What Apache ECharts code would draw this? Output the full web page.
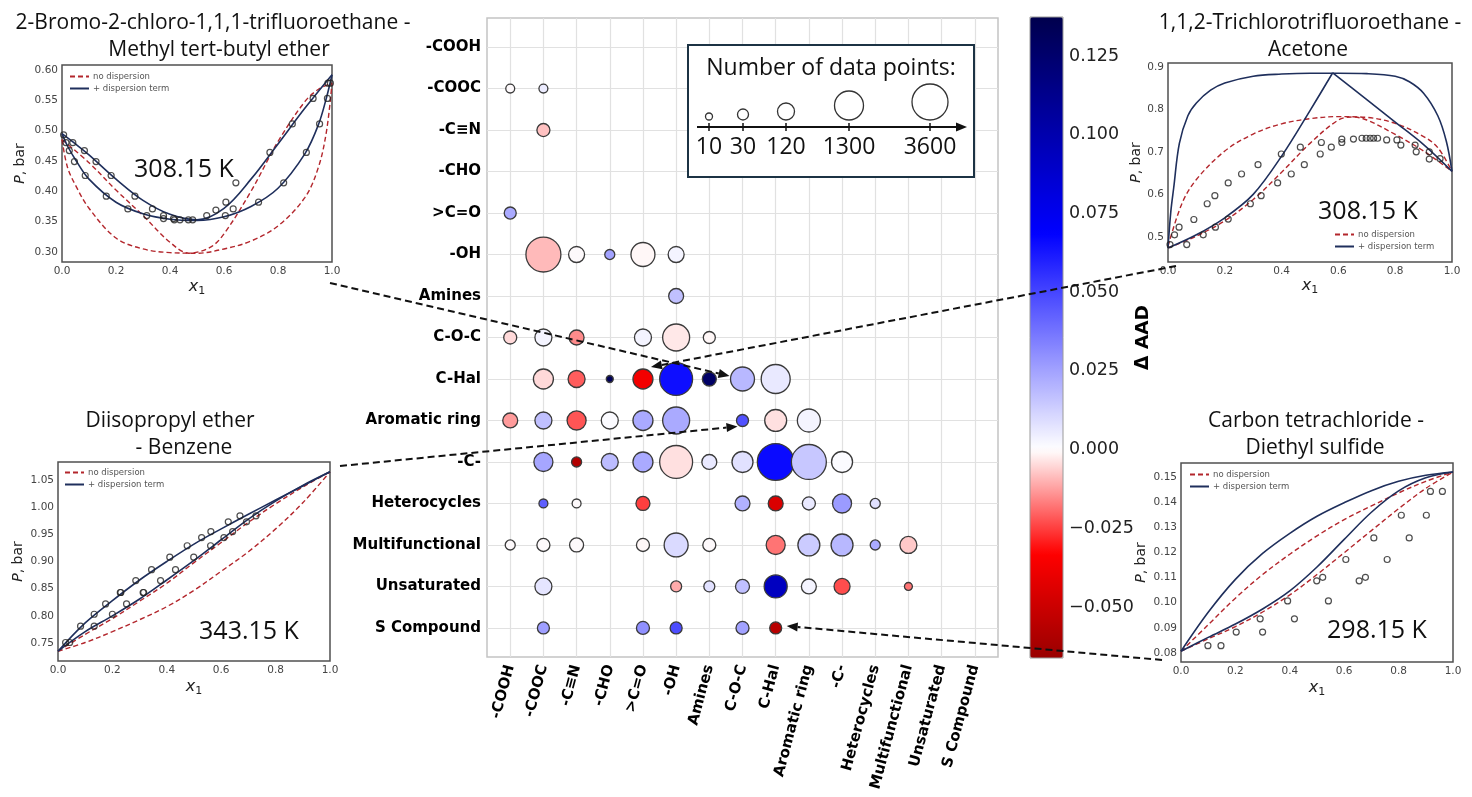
<!DOCTYPE html>
<html><head><meta charset="utf-8">
<script src="https://cdn.jsdelivr.net/npm/echarts@6/dist/echarts.min.js"></script>
<style>html,body{margin:0;padding:0;background:#fff}#c{width:1472px;height:797px}</style>
</head><body><div id="c"></div>
<script>
// ---------------- DATA ----------------
const groups = ['-COOH','-COOC','-C≡N','-CHO','>C=O','-OH','Amines','C-O-C','C-Hal','Aromatic ring','-C-','Heterocycles','Multifunctional','Unsaturated','S Compound'];
// [row group index, column group index, ΔAAD, number of data points]
const bubbles = [
 [1,0,0.000,17],[1,1,0.005,17],
 [2,1,-0.008,48],
 [4,0,0.023,38],
 [5,1,-0.009,3100],[5,2,0.000,95],[5,3,0.025,23],[5,4,-0.001,480],[5,5,0.003,95],
 [6,5,0.017,75],
 [7,0,-0.005,48],[7,1,0.003,120],[7,2,-0.015,75],[7,4,0.003,120],[7,5,-0.003,870],[7,6,-0.001,38],
 [8,1,-0.005,218],[8,2,-0.021,120],[8,3,0.133,10],[8,4,-0.037,218],[8,5,0.065,2300],[8,6,0.128,60],[8,7,0.019,480],[8,8,0.006,1300],
 [9,0,-0.013,75],[9,1,0.017,120],[9,2,-0.022,180],[9,3,0.001,120],[9,4,0.023,218],[9,5,0.023,870],[9,7,0.047,38],[9,8,-0.004,320],[9,9,0.003,395],
 [10,1,0.024,180],[10,2,-0.058,23],[10,3,0.018,120],[10,4,0.023,218],[10,5,-0.004,2300],[10,6,0.006,75],[10,7,0.008,266],[10,8,0.066,4000],[10,9,0.015,3100],[10,10,0.001,266],
 [11,1,0.043,17],[11,2,0.000,17],[11,4,-0.025,60],[11,7,0.021,75],[11,8,-0.045,75],[11,9,0.006,48],[11,10,0.027,180],[11,11,0.008,23],
 [12,0,0.000,23],[12,1,0.000,48],[12,2,0.000,60],[12,4,-0.001,48],[12,5,0.010,480],[12,6,0.000,48],[12,8,-0.018,180],[12,9,0.014,320],[12,10,0.019,320],[12,11,0.023,23],[12,12,-0.007,120],
 [13,1,0.007,120],[13,5,-0.011,30],[13,6,0.008,30],[13,7,0.017,60],[13,8,0.093,395],[13,9,0.003,75],[13,10,-0.023,95],[13,12,-0.018,13],
 [14,1,0.026,38],[14,4,0.030,48],[14,5,0.048,38],[14,7,0.025,48],[14,8,-0.056,38]
];
const sizeLegendCounts = [10,30,120,1300,3600];
const colorbarRange = [-0.0662, 0.1374];
const colorbarTicks = [-0.050,-0.025,0.000,0.025,0.050,0.075,0.100,0.125];

// Inset 1: 2-Bromo-2-chloro-1,1,1-trifluoroethane - Methyl tert-butyl ether
const bromoPts = [[0.006,0.493],[0.015,0.480],[0.027,0.467],[0.04,0.480],[0.046,0.449],[0.083,0.467],[0.086,0.426],[0.126,0.449],[0.164,0.392],[0.182,0.426],[0.244,0.371],[0.27,0.392],[0.314,0.36],[0.335,0.371],[0.376,0.36],[0.376,0.355],[0.413,0.355],[0.416,0.353],[0.437,0.353],[0.468,0.353],[0.484,0.353],[0.536,0.36],[0.57,0.369],[0.607,0.382],[0.605,0.36],[0.644,0.414],[0.634,0.371],[0.728,0.382],[0.77,0.464],[0.821,0.414],[0.853,0.511],[0.905,0.464],[0.93,0.553],[0.954,0.511],[0.983,0.553],[0.985,0.578],[0.994,0.578]];
const bromoBlueA = [[0,0.495],[0.05,0.478],[0.1,0.46],[0.2,0.42],[0.3,0.385],[0.4,0.362],[0.5,0.353],[0.6,0.372],[0.7,0.42],[0.8,0.478],[0.9,0.537],[1,0.592]];
const bromoBlueB = [[0,0.495],[0.02,0.475],[0.05,0.452],[0.1,0.42],[0.2,0.382],[0.3,0.363],[0.4,0.354],[0.5,0.352],[0.6,0.358],[0.7,0.375],[0.8,0.405],[0.9,0.462],[0.95,0.51],[0.98,0.555],[1,0.592]];
const bromoRedA = [[0,0.485],[0.1,0.447],[0.2,0.402],[0.3,0.36],[0.4,0.316],[0.47,0.298],[0.55,0.308],[0.6,0.33],[0.7,0.4],[0.8,0.482],[0.9,0.548],[0.95,0.568],[1,0.578]];
const bromoRedB = [[0,0.485],[0.02,0.44],[0.05,0.41],[0.1,0.372],[0.2,0.323],[0.3,0.305],[0.4,0.299],[0.5,0.298],[0.6,0.305],[0.7,0.318],[0.8,0.343],[0.9,0.39],[0.95,0.44],[0.98,0.5],[1,0.578]];
const bromoYTicks = [0.30,0.35,0.40,0.45,0.50,0.55,0.60];

// Inset 2: 1,1,2-Trichlorotrifluoroethane - Acetone
const trichPts = [[0.007,0.482],[0.023,0.505],[0.039,0.523],[0.066,0.482],[0.091,0.541],[0.124,0.505],[0.138,0.578],[0.165,0.597],[0.167,0.523],[0.212,0.627],[0.212,0.542],[0.259,0.648],[0.29,0.578],[0.317,0.67],[0.328,0.597],[0.386,0.627],[0.399,0.695],[0.434,0.648],[0.466,0.711],[0.48,0.67],[0.536,0.695],[0.54,0.722],[0.575,0.711],[0.612,0.73],[0.612,0.722],[0.653,0.73],[0.683,0.732],[0.698,0.732],[0.712,0.732],[0.724,0.732],[0.738,0.732],[0.77,0.728],[0.806,0.728],[0.82,0.716],[0.87,0.716],[0.874,0.70],[0.92,0.70],[0.92,0.683],[0.958,0.684]];
const trichBlueA = [[0,0.474],[0.01,0.56],[0.02,0.615],[0.04,0.72],[0.07,0.785],[0.1,0.815],[0.15,0.845],[0.2,0.862],[0.3,0.878],[0.4,0.883],[0.5,0.885],[0.6,0.885],[0.7,0.884],[0.8,0.878],[0.85,0.865],[0.9,0.838],[0.95,0.785],[0.98,0.725],[1,0.654]];
const trichBlueRise = [[0,0.474],[0.1,0.505],[0.2,0.545],[0.3,0.6],[0.4,0.69],[0.5,0.797],[0.58,0.886]];
const trichBlueFall = [[0.58,0.886],[0.7,0.823],[0.8,0.77],[0.9,0.717],[1,0.654]];
const trichRedA = [[0,0.478],[0.05,0.58],[0.1,0.635],[0.2,0.702],[0.3,0.742],[0.4,0.766],[0.5,0.778],[0.6,0.783],[0.7,0.781],[0.8,0.767],[0.9,0.736],[0.95,0.71],[1,0.654]];
const trichRedB = [[0,0.474],[0.1,0.502],[0.2,0.538],[0.3,0.588],[0.4,0.652],[0.5,0.72],[0.6,0.775],[0.65,0.782],[0.7,0.775],[0.8,0.741],[0.9,0.702],[1,0.654]];
const trichYTicks = [0.5,0.6,0.7,0.8,0.9];

// Inset 3: Diisopropyl ether - Benzene
const diisoPts = [[0.028,0.751],[0.043,0.751],[0.083,0.781],[0.133,0.781],[0.133,0.803],[0.175,0.822],[0.2,0.803],[0.229,0.843],[0.231,0.843],[0.252,0.822],[0.286,0.865],[0.313,0.843],[0.315,0.843],[0.344,0.885],[0.377,0.865],[0.411,0.908],[0.432,0.885],[0.475,0.929],[0.499,0.908],[0.528,0.944],[0.561,0.929],[0.562,0.955],[0.61,0.944],[0.626,0.973],[0.642,0.955],[0.669,0.984],[0.693,0.973],[0.728,0.984]];
const diisoBlueA = [[0,0.735],[0.1,0.787],[0.2,0.828],[0.3,0.866],[0.4,0.9],[0.5,0.932],[0.6,0.96],[0.7,0.987],[0.8,1.013],[0.9,1.039],[1,1.065]];
const diisoBlueB = [[0,0.735],[0.1,0.771],[0.2,0.8],[0.3,0.831],[0.4,0.866],[0.5,0.902],[0.6,0.94],[0.7,0.978],[0.8,1.011],[0.9,1.04],[1,1.065]];
const diisoRedA = [[0,0.735],[0.1,0.766],[0.2,0.795],[0.3,0.827],[0.4,0.86],[0.5,0.898],[0.6,0.935],[0.7,0.972],[0.8,1.006],[0.9,1.037],[1,1.065]];
const diisoRedB = [[0,0.735],[0.1,0.751],[0.2,0.771],[0.3,0.793],[0.4,0.817],[0.5,0.847],[0.6,0.882],[0.7,0.918],[0.8,0.96],[0.9,1.008],[1,1.065]];
const diisoYTicks = [0.75,0.80,0.85,0.90,0.95,1.00,1.05];

// Inset 4: Carbon tetrachloride - Diethyl sulfide
const ctetPts = [[0.099,0.0829],[0.147,0.0829],[0.203,0.0883],[0.291,0.0936],[0.3,0.0883],[0.392,0.1007],[0.417,0.0936],[0.499,0.1087],[0.521,0.1101],[0.542,0.1007],[0.606,0.1172],[0.655,0.1087],[0.678,0.1101],[0.709,0.1258],[0.758,0.1172],[0.81,0.1348],[0.839,0.1258],[0.902,0.1348],[0.917,0.1443],[0.961,0.1443]];
const ctetBlueA = [[0,0.0807],[0.1,0.0962],[0.2,0.1093],[0.3,0.1196],[0.4,0.1276],[0.5,0.1344],[0.6,0.1398],[0.7,0.1446],[0.8,0.1483],[0.9,0.1507],[1,0.152]];
const ctetBlueB = [[0,0.0807],[0.1,0.0862],[0.2,0.0915],[0.3,0.0975],[0.4,0.1047],[0.5,0.1142],[0.6,0.1252],[0.7,0.136],[0.8,0.1445],[0.9,0.1497],[1,0.152]];
const ctetRedA = [[0,0.0807],[0.1,0.0912],[0.2,0.1018],[0.3,0.1112],[0.4,0.1193],[0.5,0.1266],[0.6,0.1331],[0.7,0.1385],[0.8,0.1437],[0.9,0.1483],[1,0.152]];
const ctetRedB = [[0,0.0807],[0.1,0.0856],[0.2,0.0905],[0.3,0.0963],[0.4,0.1031],[0.5,0.1112],[0.6,0.1199],[0.7,0.1287],[0.8,0.1374],[0.9,0.1455],[1,0.152]];
const ctetYTicks = [0.08,0.09,0.10,0.11,0.12,0.13,0.14,0.15];

// ---------------- STYLE / LAYOUT ----------------
const SANS = 'DejaVu Sans';
const PPT = 'Open Sans';
const RED = '#b3262c', BLUE = '#1f2f5c';

const sizeAnchorsPx = [7,11,17,29,36];
function sizeOf(n){
  const L = sizeLegendCounts.map(Math.log10), v = Math.log10(n);
  let i = 0;
  while (i < L.length-2 && v > L[i+1]) i++;
  const t = (v - L[i])/(L[i+1]-L[i]);
  return sizeAnchorsPx[i] + t*(sizeAnchorsPx[i+1]-sizeAnchorsPx[i]);
}
function cmap(v){
  let r,g,b;
  if (v >= 0){ const t = Math.min(v/colorbarRange[1],1);
    if (t <= 0.5){ const s=t/0.5; r=g=1-s; b=1; } else { const s=(t-0.5)/0.5; r=g=0; b=1-0.7*s; }
  } else { const t = Math.min(v/colorbarRange[0],1);
    if (t <= 0.5){ const s=t/0.5; r=1; g=b=1-s; } else { const s=(t-0.5)/0.5; r=1-0.4*s; g=b=0; }
  }
  return 'rgb('+Math.round(r*255)+','+Math.round(g*255)+','+Math.round(b*255)+')';
}
const cbColors = [];
for (let i=0;i<=100;i++){ cbColors.push(cmap(colorbarRange[0]+(colorbarRange[1]-colorbarRange[0])*i/100)); }

const insets = [
 {pts:bromoPts, blue:[bromoBlueA,bromoBlueB], red:[bromoRedA,bromoRedB], yt:bromoYTicks, dec:2,
  ymin:0.2835, ymax:0.608, left:62, top:65, w:270, h:197, yGap:35, xGap:15,
  temp:'308.15 K', tempPos:[184,170], leg:{left:69, top:72},
  title:[['2-Bromo-2-chloro-1,1,1-trifluoroethane -',213,23],['Methyl tert-butyl ether',219,50]]},
 {pts:trichPts, blue:[trichBlueA,trichBlueRise,trichBlueFall], red:[trichRedA,trichRedB], yt:trichYTicks, dec:1,
  ymin:0.441, ymax:0.909, left:1168, top:63, w:284, h:199, yGap:20, xGap:14,
  temp:'308.15 K', tempPos:[1368,212], leg:{left:1334, top:230},
  title:[['1,1,2-Trichlorotrifluoroethane -',1310,23],['Acetone',1308,50]]},
 {pts:diisoPts, blue:[diisoBlueA,diisoBlueB], red:[diisoRedA,diisoRedB], yt:diisoYTicks, dec:2,
  ymin:0.717, ymax:1.083, left:58, top:462, w:272, h:199, yGap:33, xGap:16,
  temp:'343.15 K', tempPos:[249,632], leg:{left:64, top:468},
  title:[['Diisopropyl ether',170,421],['- Benzene',184,448]]},
 {pts:ctetPts, blue:[ctetBlueA,ctetBlueB], red:[ctetRedA,ctetRedB], yt:ctetYTicks, dec:2,
  ymin:0.0764, ymax:0.1556, left:1181, top:463, w:272, h:199, yGap:33, xGap:16,
  temp:'298.15 K', tempPos:[1377,631], leg:{left:1189, top:470},
  title:[['Carbon tetrachloride -',1316,421],['Diethyl sulfide',1315,448]]}
];

const grids = [
  {left:487, top:18, width:511, height:639, show:true, borderColor:'#c4c4c4', borderWidth:1.5, backgroundColor:'transparent'},
  {left:1030, top:17, width:33, height:641, show:true, borderColor:'#9a9a9a', borderWidth:1, z:5}
];
const xAxes = [
  {gridIndex:0, type:'value', min:-0.7, max:14.7,
   axisLine:{show:false}, axisTick:{show:false, customValues:groups.map((g,i)=>i)},
   splitLine:{show:true, lineStyle:{color:'#e1e1e1', width:1.2}},
   axisLabel:{customValues:groups.map((g,i)=>i), formatter:v=>groups[Math.round(v)], rotate:75, margin:8,
     fontFamily:SANS, fontWeight:'bold', fontSize:15, color:'#000'}},
  {gridIndex:1, type:'value', min:0, max:1, show:false}
];
const yAxes = [
  {gridIndex:0, type:'value', min:-0.7, max:14.7, inverse:true,
   axisLine:{show:false}, axisTick:{show:false, customValues:groups.map((g,i)=>i)},
   splitLine:{show:true, lineStyle:{color:'#e1e1e1', width:1.2}},
   axisLabel:{customValues:groups.map((g,i)=>i), formatter:v=>groups[Math.round(v)], margin:6,
     fontFamily:SANS, fontWeight:'bold', fontSize:15, color:'#000'}},
  {gridIndex:1, type:'value', position:'right', min:colorbarRange[0], max:colorbarRange[1],
   axisLine:{show:false}, splitLine:{show:false},
   axisTick:{show:true, length:5, customValues:colorbarTicks, lineStyle:{color:'#333'}},
   axisLabel:{customValues:colorbarTicks, margin:6, fontFamily:SANS, fontSize:17.5, color:'#222',
     formatter:v=>(v<0?'\u2212':'')+Math.abs(v).toFixed(3)},
   name:'Δ AAD', nameLocation:'middle', nameRotate:90, nameGap:71, nameMoveOverlap:false,
   nameTextStyle:{fontFamily:SANS, fontWeight:'bold', fontSize:18.5, color:'#000'}}
];
const series = [{
  type:'scatter', xAxisIndex:0, yAxisIndex:0, z:3,
  data:bubbles.map(b=>[b[1],b[0],b[2],b[3]]),
  symbolSize:d=>sizeOf(d[3]),
  itemStyle:{borderColor:'#3a3a3a', borderWidth:1.3, opacity:1}
}];
const legends = [];
insets.forEach((ins,k)=>{
  const gi = k+2;
  grids.push({left:ins.left, top:ins.top, width:ins.w, height:ins.h, show:true, borderColor:'#505050', borderWidth:1.5, backgroundColor:'#fff'});
  xAxes.push({gridIndex:gi, type:'value', min:0, max:1, interval:0.2,
    axisLine:{show:false}, axisTick:{show:false}, splitLine:{show:false},
    axisLabel:{fontFamily:SANS, fontSize:10.5, color:'#444', margin:4, formatter:v=>v.toFixed(1)},
    name:'{i|x}{s|1}', nameLocation:'middle', nameGap:ins.xGap,
    nameTextStyle:{rich:{i:{fontFamily:SANS, fontStyle:'italic', fontSize:16, color:'#222', lineHeight:20, verticalAlign:'middle'},
                         s:{fontFamily:SANS, fontSize:11, color:'#222', lineHeight:20, verticalAlign:'bottom'}}}});
  yAxes.push({gridIndex:gi, type:'value', min:ins.ymin, max:ins.ymax,
    axisLine:{show:false}, splitLine:{show:false}, axisTick:{show:false, customValues:ins.yt},
    axisLabel:{customValues:ins.yt, fontFamily:SANS, fontSize:10.5, color:'#444', margin:4, formatter:v=>v.toFixed(ins.dec)},
    name:'{i|P}, bar', nameLocation:'middle', nameGap:ins.yGap, nameRotate:90,
    nameTextStyle:{fontFamily:SANS, fontSize:14, color:'#222', rich:{i:{fontFamily:SANS, fontStyle:'italic', fontSize:14, color:'#222'}}}});
  ins.red.forEach(d=>series.push({type:'line', name:'no dispersion', xAxisIndex:gi, yAxisIndex:gi, data:d, smooth:0.35,
    symbol:'none', lineStyle:{color:RED, width:1.4, type:[5,3]}, itemStyle:{color:RED}, z:2}));
  ins.blue.forEach(d=>series.push({type:'line', name:'+ dispersion term', xAxisIndex:gi, yAxisIndex:gi, data:d, smooth:0.35,
    symbol:'none', lineStyle:{color:BLUE, width:1.6}, itemStyle:{color:BLUE}, z:2}));
  series.push({type:'scatter', name:'experimental', xAxisIndex:gi, yAxisIndex:gi, data:ins.pts, symbol:'circle', symbolSize:6,
    itemStyle:{color:'rgba(255,255,255,0)', borderColor:'#222', borderWidth:1.2}, z:3});
  legends.push({data:['no dispersion','+ dispersion term'], orient:'vertical', left:ins.leg.left, top:ins.leg.top,
    itemWidth:19, itemHeight:7, itemGap:3, padding:0, selectedMode:false,
    itemStyle:{color:'rgba(0,0,0,0)', borderWidth:0, opacity:0},
    textStyle:{fontFamily:SANS, fontSize:8.5, color:'#555', padding:[0,0,0,-1]}});
});

const chart = echarts.init(document.getElementById('c'), null, {renderer:'canvas'});
chart.setOption({
  animation:false, backgroundColor:'#fff',
  grid:grids, xAxis:xAxes, yAxis:yAxes, series:series, legend:legends,
  visualMap:{type:'continuous', seriesIndex:0, dimension:2, min:colorbarRange[0], max:colorbarRange[1],
    left:1030, top:17, itemWidth:33, itemHeight:641, padding:0, calculable:false, hoverLink:false,
    text:null, inRange:{color:cbColors}, z:4}
});

// ---------------- ANNOTATIONS ----------------
const gfx = [];
insets.forEach(ins=>{
  ins.title.forEach(t=>gfx.push({type:'text', x:t[1], y:t[2], z:60,
    style:{text:t[0], fontFamily:PPT, fontSize:21, fill:'#111', textAlign:'center', textVerticalAlign:'middle'}}));
  gfx.push({type:'text', x:ins.tempPos[0], y:ins.tempPos[1], z:60,
    style:{text:ins.temp, fontFamily:PPT, fontSize:25, fill:'#111', textAlign:'center', textVerticalAlign:'middle'}});
});
const legX = [709,743,786,849,930];
gfx.push({type:'rect', shape:{x:688, y:45, width:286, height:132}, z:50, style:{fill:'#fff', stroke:'#1c3344', lineWidth:2}});
gfx.push({type:'text', x:831, y:68, z:51, style:{text:'Number of data points:', fontFamily:PPT, fontSize:23, fill:'#111', textAlign:'center', textVerticalAlign:'middle'}});
gfx.push({type:'line', z:51, shape:{x1:697, y1:127, x2:958, y2:127}, style:{stroke:'#111', lineWidth:2}});
gfx.push({type:'polygon', z:51, shape:{points:[[967,127],[956,122.5],[956,131.5]]}, style:{fill:'#111'}});
sizeLegendCounts.forEach((n,i)=>{
  const r = sizeOf(n)/2;
  gfx.push({type:'line', z:51, shape:{x1:legX[i], y1:123, x2:legX[i], y2:131}, style:{stroke:'#111', lineWidth:1.5}});
  gfx.push({type:'circle', z:51, shape:{cx:legX[i], cy:120-r, r:r}, style:{fill:'#fff', stroke:'#333', lineWidth:1.3}});
  gfx.push({type:'text', z:51, x:legX[i], y:147, style:{text:String(n), fontFamily:PPT, fontSize:23, fill:'#111', textAlign:'center', textVerticalAlign:'middle'}});
});
const arrowSpecs = [
  {from:[330,283], row:8, col:7, off:[-13,-3]},
  {from:[1176,266], row:8, col:4, off:[8,-12]},
  {from:[340,466], row:9, col:7, off:[-5,6]},
  {from:[1162,660], row:14, col:8, off:[11,-2]}
];
arrowSpecs.forEach(a=>{
  const c = chart.convertToPixel({xAxisIndex:0, yAxisIndex:0}, [a.col, a.row]);
  const tip = [c[0]+a.off[0], c[1]+a.off[1]];
  const dx = tip[0]-a.from[0], dy = tip[1]-a.from[1], L = Math.hypot(dx,dy);
  const u = [dx/L, dy/L], p = [-u[1], u[0]];
  const base = [tip[0]-u[0]*11, tip[1]-u[1]*11];
  gfx.push({type:'line', z:100, shape:{x1:a.from[0], y1:a.from[1], x2:base[0], y2:base[1]},
    style:{stroke:'#111', lineWidth:2, lineDash:[7,4]}});
  gfx.push({type:'polygon', z:100, shape:{points:[tip,[base[0]+p[0]*4.5, base[1]+p[1]*4.5],[base[0]-p[0]*4.5, base[1]-p[1]*4.5]]},
    style:{fill:'#111'}});
});
chart.setOption({graphic:{elements:gfx}});
</script>
</body></html>
